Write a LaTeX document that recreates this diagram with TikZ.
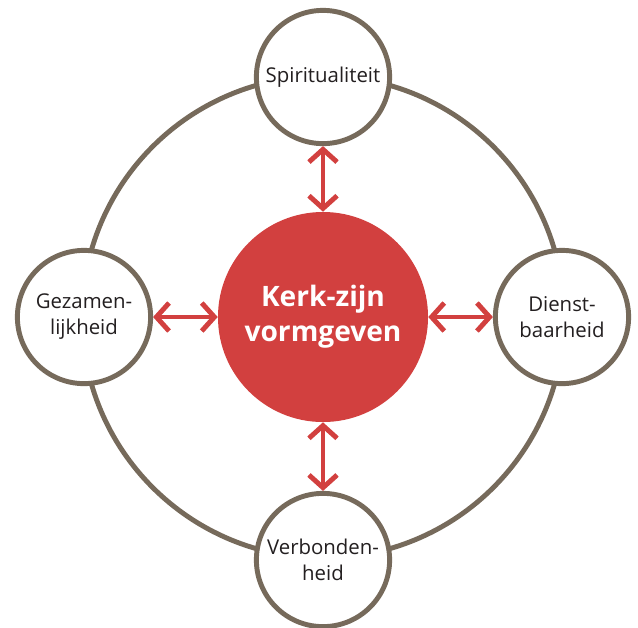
\documentclass[tikz,border=0pt]{standalone}
\usepackage{fontspec}
\setmainfont{Open Sans}
\usetikzlibrary{arrows.meta}
\definecolor{ringgrey}{HTML}{766A5B}
\definecolor{kerkred}{HTML}{D2403F}
\definecolor{tekst}{HTML}{231F20}
\tikzset{
  pijler/.style={circle, draw=ringgrey, line width=3.5pt, fill=white,
    minimum size=3.33cm, inner sep=0pt, align=center, text=tekst,
    font=\fontsize{14.5}{18.5}\selectfont},
  kern/.style={circle, fill=kerkred, minimum size=5.25cm, inner sep=0pt,
    align=center, text=white, font=\fontsize{20}{25}\selectfont\bfseries},
  wissel/.style={kerkred, line width=3.5pt,
    {Straight Barb[length=9pt,width=20pt]}-{Straight Barb[length=9pt,width=20pt]}}
}
\begin{document}
\begin{tikzpicture}[x=0.025cm,y=-0.025cm]
        \useasboundingbox (0,0) rectangle (638,627);
        % Ring
        \draw [ringgrey, line width=3.5pt] (323,317) circle [radius=241];
        % Midden
        \node [kern] (kern) at (323,317) {Kerk-zijn\\vormgeven};
        % Pijlers
        \node [pijler] (spir) at (323,77) {Spiritualiteit};
        \node [pijler] (gez) at (84,317) {Gezamen-\\lijkheid};
        \node [pijler] (dienst) at (562,317) {Dienst-\\baarheid};
        \node [pijler] (verb) at (323,560) {Verbonden-\\heid};
        % Pijlen
        \draw [wissel] (spir.south) -- (kern.north);
        \draw [wissel] (verb.north) -- (kern.south);
        \draw [wissel] (gez.east) -- (kern.west);
        \draw [wissel] (dienst.west) -- (kern.east);
\end{tikzpicture}
\end{document}
